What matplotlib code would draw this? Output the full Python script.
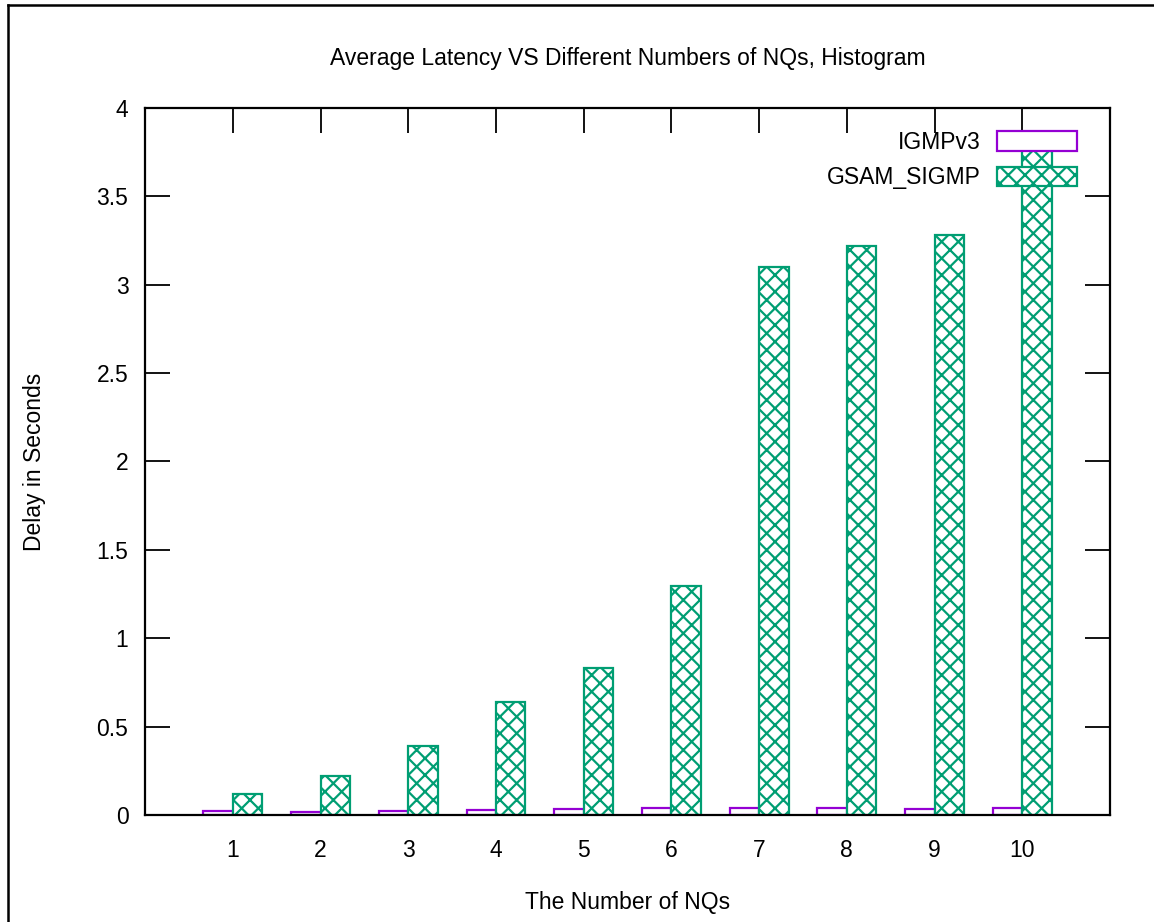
import numpy as np
import matplotlib.pyplot as plt
from matplotlib.lines import Line2D

plt.switch_backend('Agg')
plt.rcParams['font.family'] = ['Liberation Sans', 'DejaVu Sans']
plt.rcParams['hatch.linewidth'] = 1.6

# Data
nqs = [1, 2, 3, 4, 5, 6, 7, 8, 9, 10]
igmpv3 = [0.02, 0.018, 0.025, 0.028, 0.035, 0.037, 0.04, 0.04, 0.032, 0.04]
gsam_sigmp = [0.12, 0.22, 0.39, 0.64, 0.83, 1.295, 3.10, 3.22, 3.28, 3.81]

purple = '#9400D3'
green = '#009E73'
fs = 16.5
W, H = 1154, 922

fig = plt.figure(figsize=(W / 100, H / 100), dpi=100)
ax = fig.add_axes([0.1257, 0.1161, 0.8362, 0.7668])

x = np.array(nqs)
w = 0.335
ax.bar(x - w / 2, igmpv3, width=w, facecolor='white', edgecolor=purple,
       linewidth=1.6, label='IGMPv3', zorder=2)
ax.bar(x + w / 2, gsam_sigmp, width=w, facecolor='white', edgecolor=green,
       hatch='xx', linewidth=1.6, label='GSAM_SIGMP', zorder=2)

ax.set_xlim(0, 11)
ax.set_ylim(0, 4)
ax.set_xticks(nqs)
ax.set_yticks([0, 0.5, 1, 1.5, 2, 2.5, 3, 3.5, 4])
ax.set_yticklabels(['0', '0.5', '1', '1.5', '2', '2.5', '3', '3.5', '4'])
ax.tick_params(direction='in', length=18, width=1.3, top=True, right=True,
               labelsize=fs, pad=12)
ax.tick_params(axis='x', bottom=False, pad=17)
for s in ax.spines.values():
    s.set_linewidth(1.6)
    s.set_zorder(3)

fig.text(628 / W, 1 - 59 / H, 'Average Latency VS Different Numbers of NQs, Histogram',
         fontsize=fs, ha='center', va='center')
fig.text(628 / W, 1 - 902 / H, 'The Number of NQs', fontsize=fs,
         ha='center', va='center')
fig.text(35 / W, 1 - 462 / H, 'Delay in Seconds', fontsize=fs,
         ha='center', va='center', rotation=90)

leg = ax.legend(loc='upper right', bbox_to_anchor=(0.9875, 0.997), frameon=False,
                fontsize=fs, markerfirst=False, handlelength=3.5,
                handleheight=0.95, labelspacing=0.55, handletextpad=0.7)

# outer frame lines (left and top edges)
fig.add_artist(Line2D([8 / W, 8 / W], [0, 1 - 5 / H], color='black', lw=1.8))
fig.add_artist(Line2D([8 / W, 1], [1 - 5 / H, 1 - 5 / H], color='black', lw=1.8))

fig.savefig('out.png', dpi=100)
